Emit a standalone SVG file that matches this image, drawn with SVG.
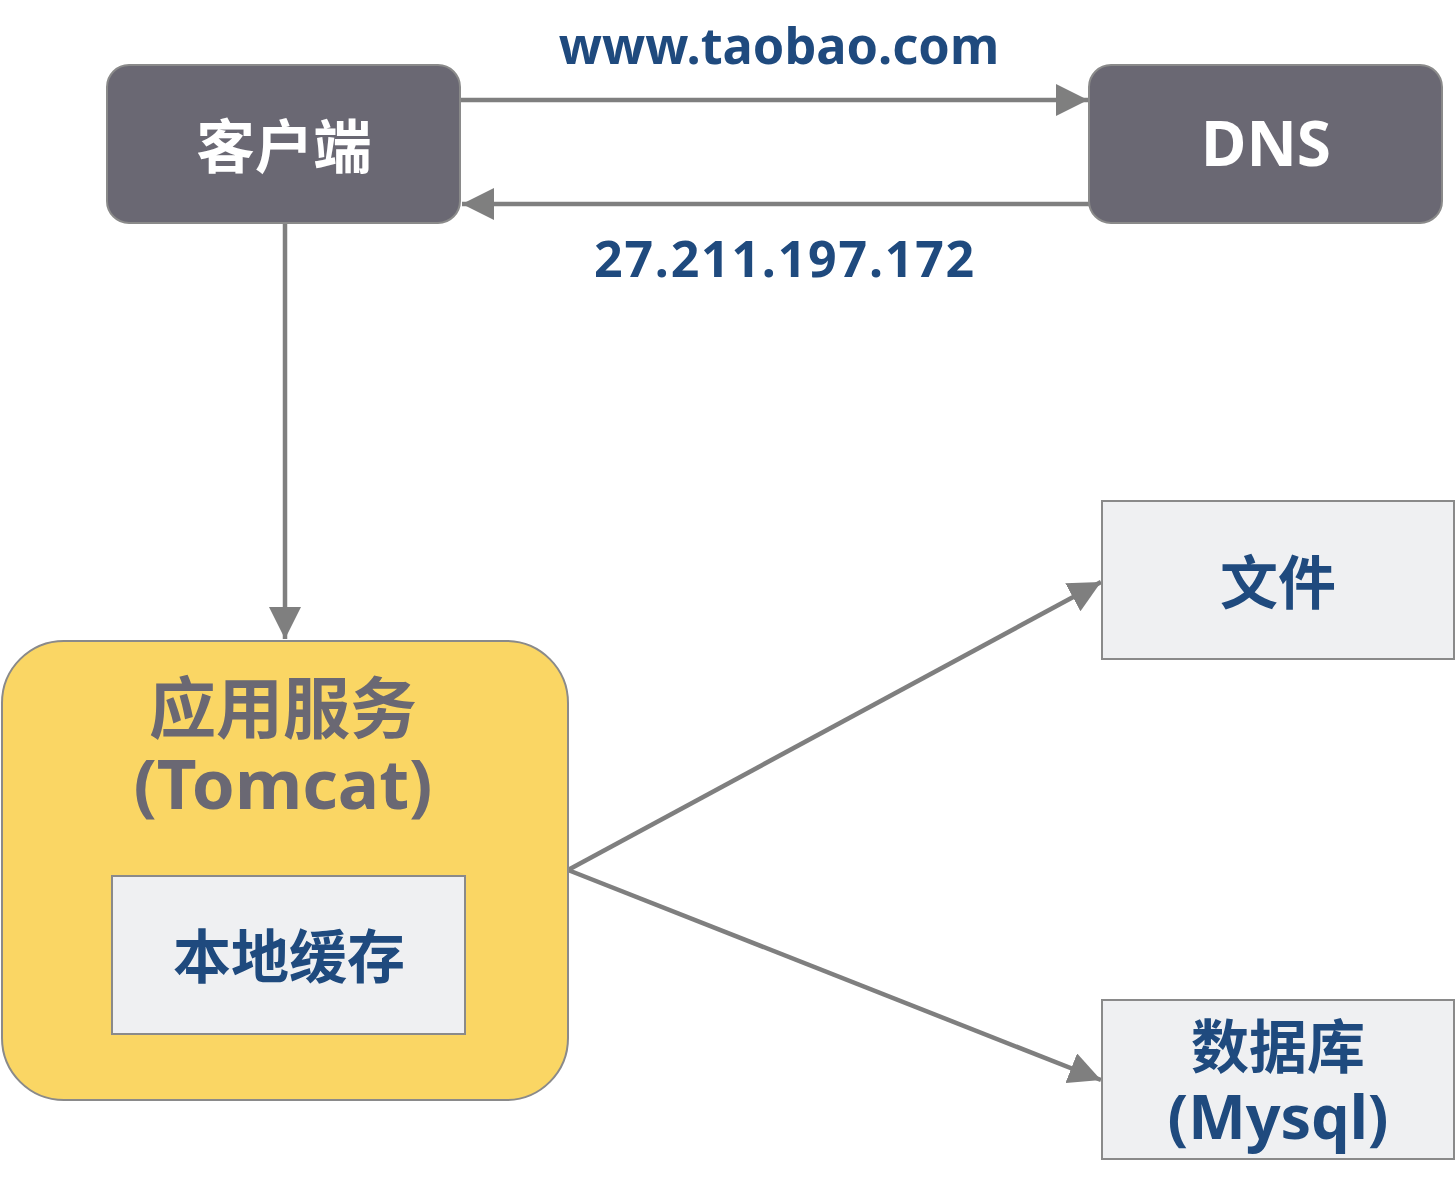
<svg xmlns="http://www.w3.org/2000/svg" width="1456" height="1186" viewBox="0 0 1456 1186">
<defs>
<style>
.dark{fill:#6a6873;stroke:#8a8a8a;stroke-width:2}
.light{fill:#eff0f2;stroke:#8a8a8a;stroke-width:2}
.yellow{fill:#fad664;stroke:#8a8a8a;stroke-width:2}
.t{font-family:"Noto Sans","Noto Sans CJK SC",sans-serif;font-weight:bold;text-anchor:middle}
.white{fill:#ffffff}
.blue{fill:#1f4a7e}
.gray{fill:#6a6873}
.edge{stroke:#7f7f7f;stroke-width:4.5;fill:none}
</style>
<marker id="ah" markerUnits="userSpaceOnUse" markerWidth="32" markerHeight="32" viewBox="0 0 30 30" refX="30" refY="15" orient="auto">
<path d="M0,0 L30,15 L0,30 Z" fill="#7f7f7f"/>
</marker>
</defs>
<g id="edges">
<line class="edge" x1="461" y1="100" x2="1088" y2="100" marker-end="url(#ah)"/>
<line class="edge" x1="1089" y1="204" x2="462" y2="204" marker-end="url(#ah)"/>
<line class="edge" x1="285" y1="224" x2="285" y2="639" marker-end="url(#ah)"/>
<line class="edge" x1="568" y1="870" x2="1101" y2="582" marker-end="url(#ah)"/>
<line class="edge" x1="568" y1="870" x2="1101" y2="1080" marker-end="url(#ah)"/>
<text class="t blue" x="779" y="64" font-size="50.5">www.taobao.com</text>
<text class="t blue" x="785" y="277" font-size="50" letter-spacing="1.8">27.211.197.172</text>
</g>
<g id="client">
<rect class="dark" x="107" y="65" width="353" height="158" rx="22"/>
<text class="t white" x="284" y="168" font-size="58.5">客户端</text>
</g>
<g id="dns">
<rect class="dark" x="1089" y="65" width="353" height="158" rx="22"/>
<text class="t white" x="1266" y="166" font-size="62">DNS</text>
</g>
<g id="tomcat">
<rect class="yellow" x="2" y="641" width="566" height="459" rx="62"/>
<text class="t gray" x="283" y="733" font-size="67">应用服务</text>
<text class="t gray" x="283" y="809" font-size="69">(Tomcat)</text>
</g>
<g id="cache">
<rect class="light" x="112" y="876" width="353" height="158"/>
<text class="t blue" x="289" y="978" font-size="58">本地缓存</text>
</g>
<g id="file">
<rect class="light" x="1102" y="501" width="352" height="158"/>
<text class="t blue" x="1278" y="604" font-size="58">文件</text>
</g>
<g id="db">
<rect class="light" x="1102" y="1000" width="352" height="159"/>
<text class="t blue" x="1278" y="1068" font-size="58">数据库</text>
<text class="t blue" x="1278" y="1139" font-size="61">(Mysql)</text>
</g>
</svg>
